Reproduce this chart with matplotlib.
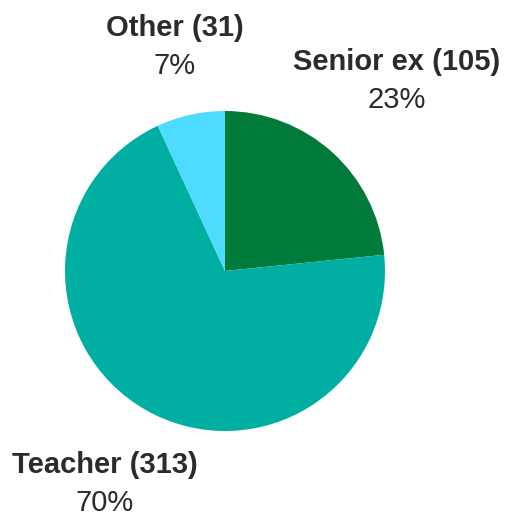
import matplotlib
matplotlib.use("Agg")
import matplotlib.pyplot as plt

categories = ["Senior ex", "Teacher", "Other"]
counts = [105, 313, 31]
colors = ["#007B3A", "#00AFA2", "#4DDBFF"]

W, H = 506, 516
fig = plt.figure(figsize=(W / 100, H / 100), dpi=100)
ax = fig.add_axes([0, 0, 1, 1])
ax.set_xlim(0, W)
ax.set_ylim(0, H)
ax.set_aspect("equal")
ax.axis("off")

cx, cy, r = 225, H - 271, 160
ax.pie(counts, colors=colors, startangle=90, counterclock=False,
       center=(cx, cy), radius=r, frame=True,
       wedgeprops=dict(linewidth=0))
ax.set_xlim(0, W)
ax.set_ylim(0, H)
ax.axis("off")

total = sum(counts)
label_pos = {"Senior ex": (397, 62), "Teacher": (105, 465), "Other": (175, 28)}
txt_color = "#2b2b2b"
for name, n in zip(categories, counts):
    x, y = label_pos[name]
    ax.text(x, H - y, f"{name} ({n})", ha="center", va="center",
            fontsize=21, fontweight="bold", family="Liberation Sans", color=txt_color)
    ax.text(x, H - y - 38, f"{round(100 * n / total)}%", ha="center", va="center",
            fontsize=21, family="Liberation Sans", color=txt_color)

fig.savefig("out.png", dpi=100)
